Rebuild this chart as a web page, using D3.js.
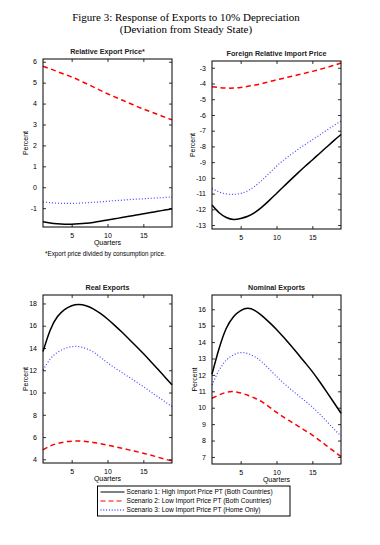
<!DOCTYPE html>
<html><head><meta charset="utf-8">
<script src="https://cdn.jsdelivr.net/npm/d3@7"></script>
<style>
html,body{margin:0;padding:0;background:#fff;}
svg{display:block;}
</style></head>
<body>
<svg id="chart" width="380" height="545"></svg>
<script>
// ---- data ----
const quarters = [1,2,3,4,5,6,7,8,9,10,11,12,13,14,15,16,17,18,19];
const xTicks = [5,10,15];

const titleLine1 = "Figure 3:  Response of Exports to 10% Depreciation";
const titleLine2 = "(Deviation from Steady State)";
const panelTitles = ["Relative Export Price*", "Foreign Relative Import Price", "Real Exports", "Nominal Exports"];
const footnote = "*Export price divided by consumption price.";
const seriesNames = [
  "Scenario 1: High Import Price PT (Both Countries)",
  "Scenario 2: Low Import Price PT (Both Countries)",
  "Scenario 3: Low Import Price PT (Home Only)"
];

// Relative Export Price
const rep_s1 = [-1.65,-1.71,-1.75,-1.77,-1.77,-1.75,-1.72,-1.68,-1.63,-1.57,-1.51,-1.45,-1.39,-1.33,-1.27,-1.21,-1.15,-1.09,-1.03];
const rep_s2 = [5.78,5.66,5.53,5.40,5.27,5.12,4.96,4.80,4.63,4.47,4.32,4.17,4.03,3.88,3.74,3.61,3.48,3.35,3.22];
const rep_s3 = [-0.70,-0.74,-0.76,-0.77,-0.77,-0.76,-0.74,-0.72,-0.70,-0.67,-0.64,-0.62,-0.59,-0.57,-0.55,-0.53,-0.51,-0.49,-0.47];
const rep_ticks = [-1,0,1,2,3,4,5,6];

// Foreign Relative Import Price
const frip_s1 = [-11.73,-12.22,-12.52,-12.64,-12.58,-12.44,-12.19,-11.84,-11.43,-10.99,-10.55,-10.11,-9.68,-9.26,-8.86,-8.45,-8.04,-7.63,-7.24];
const frip_s2 = [-4.21,-4.26,-4.29,-4.29,-4.25,-4.18,-4.10,-4.00,-3.88,-3.77,-3.66,-3.56,-3.45,-3.34,-3.23,-3.11,-2.98,-2.85,-2.70];
const frip_s3 = [-10.67,-10.90,-11.02,-11.05,-10.99,-10.82,-10.52,-10.14,-9.70,-9.26,-8.87,-8.52,-8.19,-7.88,-7.58,-7.28,-6.97,-6.67,-6.39];
const frip_ticks = [-13,-12,-11,-10,-9,-8,-7,-6,-5,-4,-3];

// Real Exports
const rx_s1 = [13.68,15.60,16.80,17.45,17.80,17.90,17.80,17.52,17.10,16.60,16.03,15.43,14.80,14.16,13.50,12.81,12.11,11.40,10.69];
const rx_s2 = [4.84,5.20,5.42,5.56,5.63,5.64,5.60,5.52,5.41,5.28,5.14,5.00,4.85,4.70,4.55,4.38,4.20,4.02,3.85];
const rx_s3 = [12.03,13.00,13.60,13.95,14.12,14.12,13.95,13.65,13.17,12.67,12.22,11.80,11.38,10.96,10.53,10.08,9.63,9.18,8.74];
const rx_ticks = [4,6,8,10,12,14,16,18];

// Nominal Exports
const nx_s1 = [12.04,13.62,14.84,15.55,15.92,16.06,15.92,15.60,15.20,14.77,14.29,13.79,13.27,12.74,12.20,11.60,10.97,10.32,9.66];
const nx_s2 = [10.58,10.78,10.94,10.98,10.90,10.76,10.58,10.35,10.04,9.72,9.42,9.15,8.88,8.61,8.33,8.01,7.68,7.35,7.02];
const nx_s3 = [11.39,12.30,12.90,13.22,13.36,13.30,13.10,12.78,12.35,11.91,11.50,11.12,10.76,10.41,10.04,9.62,9.17,8.71,8.28];
const nx_ticks = [7,8,9,10,11,12,13,14,15,16];

// ---- layout / style ----
const panels = [
  {title: panelTitles[0], s: [rep_s1, rep_s2, rep_s3], ticks: rep_ticks, yDom: [-1.9, 6.13],
   x0: 43, x1: 172, y0: 59, y1: 227, labX: 25.5, xlabel: true},
  {title: panelTitles[1], s: [frip_s1, frip_s2, frip_s3], ticks: frip_ticks, yDom: [-13.25, -2.57],
   x0: 212, x1: 341, y0: 61, y1: 229, labX: 193, xlabel: false},
  {title: panelTitles[2], s: [rx_s1, rx_s2, rx_s3], ticks: rx_ticks, yDom: [3.67, 18.76],
   x0: 43, x1: 172, y0: 295, y1: 463, labX: 26, xlabel: true},
  {title: panelTitles[3], s: [nx_s1, nx_s2, nx_s3], ticks: nx_ticks, yDom: [6.57, 16.87],
   x0: 212, x1: 341, y0: 295, y1: 464, labX: 195, xlabel: true}
];
const styles = [
  {color: "#000000", width: 1.5, dash: null},
  {color: "#ff0000", width: 1.5, dash: "5,3.5"},
  {color: "#4444ff", width: 1.2, dash: "1,2"}
];
const sans = "'Liberation Sans', Arial, Helvetica, sans-serif";
const fmt = d => String(d);

const svg = d3.select("#chart");

svg.append("text").attr("x", 186).attr("y", 21).attr("text-anchor", "middle")
  .attr("font-family", "'Liberation Serif', 'DejaVu Serif', serif").attr("font-size", 11)
  .text(titleLine1);
svg.append("text").attr("x", 186).attr("y", 33).attr("text-anchor", "middle")
  .attr("font-family", "'Liberation Serif', 'DejaVu Serif', serif").attr("font-size", 11)
  .text(titleLine2);

panels.forEach(p => {
  const x = d3.scaleLinear().domain([1, 19]).range([p.x0, p.x1]);
  const y = d3.scaleLinear().domain(p.yDom).range([p.y1, p.y0]);
  const g = svg.append("g");

  // lines
  const line = d3.line().x((d, i) => x(quarters[i])).y(d => y(d)).curve(d3.curveNatural);
  p.s.forEach((ser, k) => {
    const st = styles[k];
    g.append("path").datum(ser).attr("d", line).attr("fill", "none")
      .attr("stroke", st.color).attr("stroke-width", st.width)
      .attr("stroke-dasharray", st.dash);
  });

  // axes (inward ticks on all sides)
  const axL = g.append("g").attr("transform", `translate(${p.x0},0)`)
    .call(d3.axisLeft(y).tickValues(p.ticks).tickSize(-3).tickPadding(6).tickFormat(fmt));
  const axR = g.append("g").attr("transform", `translate(${p.x1},0)`)
    .call(d3.axisRight(y).tickValues(p.ticks).tickSize(-3).tickFormat(""));
  const axB = g.append("g").attr("transform", `translate(0,${p.y1})`)
    .call(d3.axisBottom(x).tickValues(xTicks).tickSize(-3).tickPadding(6).tickFormat(fmt));
  const axT = g.append("g").attr("transform", `translate(0,${p.y0})`)
    .call(d3.axisTop(x).tickValues(xTicks).tickSize(-3).tickFormat(""));
  [axL, axR, axB, axT].forEach(a => {
    a.select(".domain").remove();
    a.selectAll("line").attr("stroke", "#000").attr("stroke-width", 0.8);
    a.selectAll("text").attr("font-family", sans).attr("font-size", 7).attr("fill", "#000");
  });

  // box
  g.append("rect").attr("x", p.x0).attr("y", p.y0).attr("width", p.x1 - p.x0).attr("height", p.y1 - p.y0)
    .attr("fill", "none").attr("stroke", "#000").attr("stroke-width", 1);

  // title
  g.append("text").attr("x", (p.x0 + p.x1) / 2).attr("y", p.y0 - 5).attr("text-anchor", "middle")
    .attr("font-family", sans).attr("font-size", 7.2).attr("font-weight", "bold").attr("fill", "#222")
    .text(p.title);

  // y label
  g.append("text").attr("transform", `translate(${p.labX},${(p.y0 + p.y1) / 2}) rotate(-90)`)
    .attr("text-anchor", "middle").attr("dy", "0.35em")
    .attr("font-family", sans).attr("font-size", 7).text("Percent");

  if (p.xlabel) {
    g.append("text").attr("x", (p.x0 + p.x1) / 2).attr("y", p.y1 + 18).attr("text-anchor", "middle")
      .attr("font-family", sans).attr("font-size", 7).text("Quarters");
  }
});

// footnote
svg.append("text").attr("x", 45).attr("y", 256).attr("font-family", sans).attr("font-size", 6.3)
  .text(footnote);

// legend
const lg = svg.append("g");
const lgX = 97.5, lgY = 486, lgW = 192.5, lgH = 30;
lg.append("rect").attr("x", lgX).attr("y", lgY).attr("width", lgW).attr("height", lgH)
  .attr("fill", "#fff").attr("stroke", "#000").attr("stroke-width", 1);
const rowY = d3.scalePoint().domain(seriesNames).range([lgY + 6, lgY + 24]);
seriesNames.forEach((nm, k) => {
  const st = styles[k];
  lg.append("line").attr("x1", lgX + 3).attr("x2", lgX + 27).attr("y1", rowY(nm)).attr("y2", rowY(nm))
    .attr("stroke", st.color === "#4444ff" ? "#0000ff" : st.color).attr("stroke-width", k === 0 ? 1 : 1.1)
    .attr("stroke-dasharray", k === 1 ? "5,3" : (k === 2 ? "1,1.8" : null));
  lg.append("text").attr("x", lgX + 29).attr("y", rowY(nm)).attr("dy", "0.35em")
    .attr("font-family", sans).attr("font-size", 6.6).text(nm);
});
</script>
</body></html>
